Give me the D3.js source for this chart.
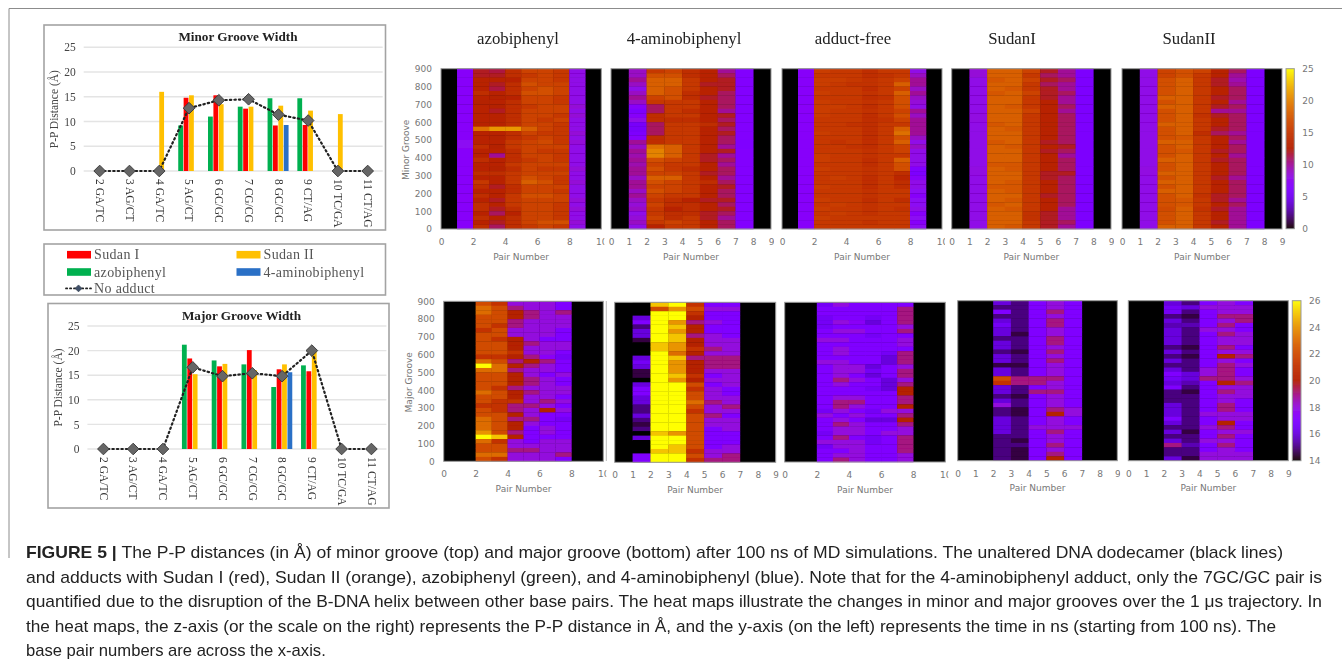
<!DOCTYPE html>
<html><head><meta charset="utf-8">
<script src="https://cdn.jsdelivr.net/npm/d3@7"></script>
<style>html,body{margin:0;background:#fff}svg{display:block}</style></head>
<body><svg id="c" width="1342" height="670"></svg>
<script>
// ---------- grouped bar data ----------
const pairs=["2 GA/TC","3 AG/CT","4 GA/TC","5 AG/CT","6 GC/GC","7 CG/CG","8 GC/GC","9 CT/AG","10 TC/GA","11 CT/AG"];
const minorAzo=[0,0,0,9.2,11,13,14.7,14.7,0,0];
const minorSudan1=[0,0,0,14.8,15.3,12.6,9.2,9.3,0,0];
const minorSudan2=[0,0,16,15.3,13.5,13,13.2,12.2,11.5,0];
const minorAmino=[0,0,0,0,0,0,9.3,0,0,0];
const minorNone=[0,0,0,12.7,14.3,14.5,11.4,10.2,0,0];
const majorAzo=[0,0,0,21.2,18,17.2,12.6,17,0,0];
const majorSudan1=[0,0,0,18.4,16.8,20.1,16.2,15.8,0,0];
const majorSudan2=[0,0,0,15.2,17.3,16,17.2,20,0,0];
const majorAmino=[0,0,0,0,0,0,15.6,0,0,0];
const majorNone=[0,0,0,16.6,14.8,15.4,14.8,20,0,0];
const barTicks=[0,5,10,15,20,25];
// ---------- heat map data: each column listed top (900) to bottom (0) ----------
const hmAzo=[
{p:1,v:[7,7,7,7,7,7,7,7,7.5,7,7,7,7,7,7.2,7,7,7]},
{p:2,v:[12,12,13,13,13,14,13,12.5,13,13,13,13,13,19,13,13,13,14,13,13,14,13,13,14,13,15,14,13,14,13,14,14,13,14,13,14]},
{p:3,v:[11.5,12,13,12,11.5,13,12.5,13,12.5,12,13,13,13,21,13,12.5,13,12.5,13,10,13,13,12.5,14,13,13,12,13,13,12,13,12,11,13,12,11]},
{p:4,v:[14,14,13,14,14,14,13,14,14,14,14,14,14,21,14,14,15,15,14,14,14,15,14,15,15,15,14,14,15,15,15,14,13,14,14,14]},
{p:5,v:[16,15,16,17,16,17,16,16,15,16,16,16,16,18,16,15,16,16,16,16,15,16,16,16,17,18,16,16,17,16,16,16,16,16,16,15]},
{p:6,v:[16,16,16,16,17,17,16,16,16,16,16,15,16,16,15,16,16.5,16,15,16,16,16,15,16,16,17,16,16,17,16,16,16,16,16,17,16]},
{p:7,v:[15,15,15,16,16,16,15,15,16,16,15,16,15,15,15,15,15,16,15,15,15,16,15,16,15,15,16,15,16,16,15,15,15,15,17,15]},
{p:8,v:[8,8,8,8,8,8,8,8,8.5,8,8.5,8,8,8,8.5,8,8.5,8,8,8,8,8,8.5,8,8,8.5,8,8,8,8.5,8,8.5,8,8,8.5,8]}];
const hmAmino=[
{p:1,v:[9,9,10,9,8,9,10,9,7,6,7,8,5.5,5.5,6,7,10,9,10,9.5,10,9.5,10,10,9,10,10,9,10,9,8.5,9,8,8.5,9,8]},
{p:2,v:[15,17,18,18,18,18,16,15,11,11,14,14,11,11,11,14,14,19,20,20,17,16,17,16,18,17,16,17,16,15,16,15,15,16,15,13]},
{p:3,v:[16,17,18,18,17,17,17,15,15,15,15,14,15,15,15,15,15,18,18,18,16,15,15,16,18,16,16,16,15,14,14,13,14,14,16,15]},
{p:4,v:[14,14,15,15,15,14,14,15,15,14,15,14,15,15,15,15,15,15,15,15,15,15,14,15,15,15,15,15,15,13,14,14,14,15,15,15]},
{p:5,v:[13,13,13,12,13,13,12,13,13,13,13,13,14,13,13,13,13,13,13,12,12,13,13,12,13,14,13,13,13,12,13,13,12,12,13,13]},
{p:6,v:[10,11,12,12,12,11,11,11,11,10,12,11,12,11,12,11,11,10,12,10,11,10,11,11,10,11,12,11,11,12,11,12,11,10,11,11]},
{p:7,v:[6.5,6.5,6.5,6.5,6.5,6.5,6.5,6.5,6.2,6.5,6.5,6.5,6.5,6.5,6.5,6.5,6.5,6.5]}];
const hmFree=[
{p:1,v:[7,7,7,7,7.2,7,7,7,7,7,7,7,7,7,7,7,7,7]},
{p:2,v:[15.5,15,15.5,15.5,15,15.5,15,15.5,15.5,15.5,15.5,15,15,15,15.5,15,15,15,15,15.5,15.5,15,15.5,15,15,15,15.5,15,15,15.5,15,15.5,15,15.5,15,15]},
{p:3,v:[15,15,15.5,15,15,15,15,15,15.5,15,15,15,15,15,15,15,14.5,15,15,15,15,15,15,15,15.5,15,15,15,15,15,15.5,15,15.5,15,15,15]},
{p:4,v:[15,15,15,14.5,15,15,15,15,15,15,15,15,14.5,15,15,15,15,14.5,15,15,15,15,15,15,15,15,15,15,15,15,15,15,15,15,15,15]},
{p:5,v:[14,14,14.5,14.5,14,14.5,14,14.5,14,14.5,14,14,14,14,14,14,14,14,14.5,14.5,14,14,14.5,14.5,14,14,14,14.5,14.5,14,14.5,14.5,14.5,15,14.5,15]},
{p:6,v:[15,14.5,15,15,15,15,14.5,15,15,15,15,14.5,15,15,15,15,15,15,15,15,15,15,15,15,15,15,15,15,15,15,15,15,15,15,15,15]},
{p:7,v:[15,15,16,18,16,18,17,17,17,16,17,16,15,18,19,17,18,16,16,15,18,17,17,14,13.5,14,14,15,15,14,15,14.5,15,15,15,15]},
{p:8,v:[8,9,10,10,9,10,9,8.5,8,10,9,10,10,10,10,9,8,9,8,8,8,8,6.5,6,7,8,8,7.5,7,7.5,7.5,8,7,7.5,7,7.5]}];
const hmSudan1=[
{p:1,v:[8.5,8,8,8,8,8.2,8,8,8,8,8,8.2,8,8,8,8,8,8]},
{p:2,v:[18,18,17.5,18,18,17.5,18,18,18,18,18,18,17.5,18,18,18,17.5,18,18,18,18,17.5,18,18,18,18,17.5,18,18,18,17.5,18,18,18,18,18]},
{p:3,v:[18,18,18,18,17.5,18,18,18,17.5,18,18,18,18,17.5,18,18,18,17.5,18,18,18,17.5,17.5,18,18,17.5,17.5,17.5,18,17.5,18,17.5,18,18,18,17.5]},
{p:4,v:[16,15,16,15,15,16,15,15,15,16,15,15,15,15,15,15,15,15,15,15,15,15,15,15,15,15,15,15,15,15,15,15,14.5,14.5,15,15]},
{p:5,v:[12,11,12,11,12,12,12,13,13,13,13,13,13,13,13,13,12,13,12,13,13,13,13,12,12,13,13,13,12,13,13,13,12,12,12,12]},
{p:6,v:[10,10,11,10,10,11,10,10,11,10,11,11,11,11,11,11,11,12,11,10,11,11,11,12,11,11,11,11,11,11,11,10,10,10,11,10]},
{p:7,v:[6,6,6,6,6,6,6,6,6,6,6,6,6,6,6,6,6,6]}];
const hmSudan2=[
{p:1,v:[8,8,8,8,8,8,8,8,8,8,8,8.2,8,8,8,8,8,8]},
{p:2,v:[16,16,17,17,17,17,18,17,18,17,17,17,18,17,17,17,18,17,17,17,18,17,17,18,17,18,17,18,17,17,17,16.5,17,17,17,18]},
{p:3,v:[17,17,18,18,18,18,18,18,18,18,18,18,18,18,18,17.5,18,18,17.5,18,18,18,18,18,18,18,18,18,18,17.5,17.5,18,18,18,18,18]},
{p:4,v:[16,15,15,15,15,15,15,15,15,15,14.5,15,15,15,14,15,15,15,15,15,15,15,15,15,15,15,15,15,14.5,15,15,14.5,15,15,15,15]},
{p:5,v:[13,13,12,12,13,13,12,13,12,10,12,13,13,12,11,13,13,13,12,13,12,13,13,13,12,13,13,13,12,12,13,12,13,13,12,13]},
{p:6,v:[11,10,9.5,10,11,11,11,10,11,10,11,11,11,11,10,11,10,11,11,10,11,11,11,11,10,11,11,11,11,10,11,10,10,10,10,10]},
{p:7,v:[6,6,6,6,6,6,6,6,6,6,6,6,6,6,6,6,6,6]}];
const hmMajAzo=[
{p:2,v:[22,23,23,22,22,22,21,22,22,22,22,22,21,23,26,23,22,22,22,22,23,22,22,21,22,22,23,23,23,24,26,23,22,22,23,22]},
{p:3,v:[21,22,22,22,22,21,22,22,21,22,22,22,21,22,23,23,22,22,22,21,22,22,21,21,21,22,22,22,22,22,25,21,22,22,23,21]},
{p:4,v:[18,19,20,20,19,19,18,18,20,20,20,21,20,19,20,19,20,20,20,19,20,20,21,19,19,20,19,20,20,19,20,18,18,19,18,18]},
{p:5,v:[18,18,19,19,18,18,18,18,18,19,18,18,19,20,19,18,18,19,19,18,19,18,18,19,18,18,19,18,17,17,17,17,18,19,18,18]},
{p:6,v:[18,18,18,18,18,18,18,18,17,18,18,18,17.5,19,18,18,17,18,18,18,18,18,19,18,20,17,17,17,18,18,17,18,18,18,18,18]},
{p:7,v:[17,17,19,18,18,18,17,17,17,18,18,17,16.5,17,17,17,18,17,17,18,18,17,18,17,18,17,16.5,17,17,17,17,18,18,18,19,17]}];
const hmMajAmino=[
{p:1,v:[14,14,14,16,17,15,16,16,14.5,14,14,14,16,16.5,16,14.5,14.5,14,16,17,17,16,16,15,15,16,15,14.5,15,14,16,14,14,14,17,17]},
{p:2,v:[25,22,26,26,26,26,26,26,26,25,25,26,26,26,26,26,26,26,26,26,26,26,26,26,26,26,26,26,26,25,26,26,26,25,26,26]},
{p:3,v:[26,24,26,26,24,25,24,25,25,24,24,23,25,24,24,24,25,24,26,26,26,26,26,26,26,26,26,26,26,24,26,26,25,25,26,26]},
{p:4,v:[21,22,21,20,19,20,20,19,20,20,21,20,19,20,20,20,21,20,22,21,22,22,23,22,21,22,22,22,22,22,22,22,22,21,22,21]},
{p:5,v:[17,18,17,17,18,17,17,18,18,18,19,18,19,19,19,18,17,18,17,18,18,18,19,18,18,19,18,18,17,17,17,17,17,18,18,19]},
{p:6,v:[17,18,17,17,17,17,17,17,18,18,18,18,19,19,19,18,18,18,18,17,17,18,18,19,18,17,18,18,18,17,17,17,18,18,19,19]}];
const hmMajFree=[
{p:2,v:[16.5,17,17,16.5,16.5,16.5,17,17,18,17,17,17,17,18,17,17,17,17,17,17,17,17,17,17,16.5,18,17,17,17,16.5,17,18,16.5,17,17,17]},
{p:3,v:[18,17,17,17,18,17,18,17,18,17,18,18,17,18,18,18,18,19,18,17,17,18,19,19,18,17,18,19,18,18,19,18,18,17,18,19]},
{p:4,v:[17,17,17,17,17.5,17,18,17,17,17,17,17,17,17,18,18,17,18,17,17,17,18,19,18,17,18,17,18,18,18,17,18,18,18,18,18]},
{p:5,v:[17,17,17,16.5,16,17,17,16.5,17,17,17,17,17,17,16,16.5,16,17,17,16.5,17,17,17,17,16.5,17,16,17,17,17,16.5,16.5,17,17,17,17]},
{p:6,v:[17,17,17,17,17,17,17,17,17,17,17,16.5,16,16,17,17,17,16,16,16,17,17,17,17,18,17,16,17,17,18,17,17,17,17,17,17]},
{p:7,v:[17,19,19,19,19,18,19,17,18,18,17,19,19,19,18,19,19,18,19,20,20,19,19,20,18,19,20,19,18,18,19,19,19,19,18,18]}];
const hmMajS1=[
{p:2,v:[16,15,17,15,16,16.5,16,16,15,16,16,15,16,16,14.5,16,16,22,21,16,16,15,16,18,15,15,16,16,16,16,15,15,15,15,15,15]},
{p:3,v:[15,15,15,15,15,15,15,14.5,15,15,15,14.5,15,15,14.5,15,15,19,19,15,15,14.5,15,15,14.5,14.5,15,15,15,15,15,14.5,15,14.5,14.5,14.5]},
{p:4,v:[17,17,17,17,17,17,17,17,17,17,17,17,17,17,17,17,17,19,19,17,19,17,17,17,17,17,17,17,18,17,17,17,17,17,17,17]},
{p:5,v:[18,18,19,18,19,19,18,18,19,19,18,19,18,19,18,18,18,19,18,18,19,18,18,18,19,20,18,18,18,19,18,18,19,18,19,20]},
{p:6,v:[17,17,17,17,17,17,17,17,17,17,17,17,17,17,17,17,17,17,17,17,17,17,17,17,18,18,17,17,18,17,17,17,17,17,17,17]}];
const hmMajS2=[
{p:2,v:[16,16.5,16.5,15,16,15.5,16,16,16,16,15,16,15,16,15,16,17,16.5,16,17,15,15,15,16,16,16,17,16,15,16,15,16,19,15,15,16]},
{p:3,v:[15,16,15,14.5,15,15.5,15,15,15,15,14.5,15,14.5,15,15,15,16,16,15.5,15,14.5,15,15,15,15,15,15,15,15,14.5,15,15,15.5,15,15,14.5]},
{p:4,v:[17,18,17,17,17,17,18,17,17,17,17,17,17,17,17,18,18,19,17,17,17,17,17,17,17,18,17,17,18,17,17,18,17,17,18,18]},
{p:5,v:[18,18,18,19,18,19,18,19,18,18,19,18,20,18,19,19,19,19,20,18,19,18,18,19,19,18,18,20,19,18,19,18,19,18,18,18]},
{p:6,v:[17,18,18,19,19,17,17,18,18,18,17,18,19,17,18,17,17,18,19,18,18,18,17,17,17,18,18,17,17,18,17,17,17,17,18,18]}];
const caption=[
["FIGURE 5 | ","The P-P distances (in Å) of minor groove (top) and major groove (bottom) after 100 ns of MD simulations. The unaltered DNA dodecamer (black lines)"],
["","and adducts with Sudan I (red), Sudan II (orange), azobiphenyl (green), and 4-aminobiphenyl (blue). Note that for the 4-aminobiphenyl adduct, only the 7GC/GC pair is"],
["","quantified due to the disruption of the B-DNA helix between other base pairs. The heat maps illustrate the changes in minor and major grooves over the 1 μs trajectory. In"],
["","the heat maps, the z-axis (or the scale on the right) represents the P-P distance in Å, and the y-axis (on the left) represents the time in ns (starting from 100 ns). The"],
["","base pair numbers are across the x-axis."]];
const capEnds=[1283,1322,1322,1276,null];

const svg=d3.select("#c");
const serif='"Liberation Serif",serif',sans='"DejaVu Sans",sans-serif';
const defs=svg.append("defs");
defs.append("filter").attr("id","soft").attr("x","-2%").attr("y","-2%").attr("width","104%").attr("height","104%")
 .append("feGaussianBlur").attr("stdDeviation","0.5 0.7");
defs.append("filter").attr("id","softer").attr("x","-5%").attr("y","-5%").attr("width","110%").attr("height","110%")
 .append("feGaussianBlur").attr("stdDeviation",0.35);

// outer frame
svg.append("path").attr("d","M9,558V8.5H1342").attr("fill","none").attr("stroke","#8c8c8c").attr("stroke-width",1);

const pal=t=>{t=Math.max(0,Math.min(1,t));const b=Math.max(0,Math.sin(2*Math.PI*t));
 return d3.rgb(255*Math.sqrt(t),255*t*t*t,255*b)+"";};

function barPanel(o){
 const g=svg.append("g").attr("filter","url(#softer)");
 g.append("rect").attr("x",o.box[0]).attr("y",o.box[1]).attr("width",o.box[2]-o.box[0]).attr("height",o.box[3]-o.box[1])
  .attr("fill","#fff").attr("stroke","#a3a3a3").attr("stroke-width",1.6);
 const step=(o.x11-o.x2)/9;
 const x=d3.scaleBand().domain(pairs).range([o.x2-step/2,o.x11+step/2]);
 const y=d3.scaleLinear().domain([0,25]).range([o.y0,o.y25]);
 const inner=21.6,off=(step-inner)/2;
 const sub=d3.scaleBand().domain(["azo","s1","s2","am"]).range([off,off+inner]);
 g.append("g").selectAll("line").data(barTicks).join("line")
  .attr("x1",o.x2-16).attr("x2",o.x11+15).attr("y1",d=>y(d)).attr("y2",d=>y(d)).attr("stroke","#e4e4e4").attr("stroke-width",1.4);
 const ax=g.append("g").attr("transform",`translate(${o.x2-25},0)`).call(d3.axisLeft(y).tickValues(barTicks).tickSize(0));
 ax.select(".domain").remove();
 ax.selectAll("text").attr("font-family",serif).attr("font-size",11.5).attr("fill","#444").attr("x",1);
 const series=[["azo",o.azo,"#00b050"],["s1",o.s1,"#ff0000"],["s2",o.s2,"#ffc000"],["am",o.am,"#2a6fc6"]];
 series.forEach(([k,vals,col])=>{
  g.append("g").selectAll("rect").data(vals.map((v,i)=>({v,i})).filter(d=>d.v>0)).join("rect")
   .attr("x",d=>x(pairs[d.i])+sub(k)).attr("y",d=>y(d.v)).attr("width",sub.bandwidth()-0.6).attr("height",d=>y(0)-y(d.v)).attr("fill",col);
 });
 const cx=i=>x(pairs[i])+step/2;
 g.append("path").datum(o.none).attr("fill","none").attr("stroke","#222").attr("stroke-width",2.2).attr("stroke-dasharray","1.4 3.1").attr("stroke-linecap","round")
  .attr("d",d3.line().x((d,i)=>cx(i)).y(d=>y(d)));
 g.append("g").selectAll("path").data(o.none).join("path")
  .attr("d",d3.symbol(d3.symbolSquare,68)()).attr("transform",(d,i)=>`translate(${cx(i)},${y(d)}) rotate(45)`)
  .attr("fill","#666").attr("stroke","#3a3a3a").attr("stroke-width",0.9);
 const a2=g.append("g").attr("transform",`translate(0,${o.y0})`).call(d3.axisBottom(x).tickSize(0));
 a2.select(".domain").remove();
 a2.selectAll("text").attr("font-family",serif).attr("font-size",11.5).attr("fill","#333")
  .attr("text-anchor","start").attr("dy","0.32em").attr("y",0).attr("x",0)
  .attr("transform","translate(0,8) rotate(90)");
 g.append("text").attr("x",o.titleX).attr("y",o.titleY).attr("text-anchor","middle").attr("font-family",serif).attr("font-weight","bold").attr("font-size",13.2).attr("fill","#222").text(o.title);
 g.append("text").attr("transform",`translate(${o.ylabX},${(o.y0+o.y25)/2}) rotate(-90)`).attr("text-anchor","middle").attr("font-family",serif).attr("font-size",11.5).attr("fill","#444").text("P-P Distance (Å)");
}
barPanel({box:[44,25,385.5,230],x2:99.7,x11:367.7,y0:171,y25:47.3,title:"Minor Groove Width",titleX:238,titleY:41,ylabX:58,
 azo:minorAzo,s1:minorSudan1,s2:minorSudan2,am:minorAmino,none:minorNone});
barPanel({box:[48,303.5,389,508],x2:103.4,x11:371.4,y0:449,y25:326,title:"Major Groove Width",titleX:241.5,titleY:320,ylabX:62,
 azo:majorAzo,s1:majorSudan1,s2:majorSudan2,am:majorAmino,none:majorNone});

// legend
const lg=svg.append("g").attr("filter","url(#softer)");
lg.append("rect").attr("x",44).attr("y",244).attr("width",341.5).attr("height",51).attr("fill","#fff").attr("stroke","#a3a3a3").attr("stroke-width",1.6);
const legendNames=["Sudan I","Sudan II","azobiphenyl","4-aminobiphenyl"];
const legendCols=["#ff0000","#ffc000","#00b050","#2a6fc6"];
legendNames.forEach((n,i)=>{
 const lx=i%2?236.5:67,ly=i<2?254.7:272;
 lg.append("rect").attr("x",lx).attr("y",ly-3.8).attr("width",24).attr("height",7.6).attr("fill",legendCols[i]);
 lg.append("text").attr("x",lx+27).attr("y",ly+4.6).attr("font-family",serif).attr("font-size",14).attr("letter-spacing",0.35).attr("fill","#555").text(n);
});
lg.append("line").attr("x1",66).attr("x2",91).attr("y1",288.4).attr("y2",288.4).attr("stroke","#222").attr("stroke-width",1.8).attr("stroke-dasharray","1.2 2.8").attr("stroke-linecap","round");
lg.append("path").attr("d",d3.symbol(d3.symbolSquare,24)()).attr("transform","translate(78.5,288.4) rotate(45)").attr("fill","#3f5068").attr("stroke","#2a3648").attr("stroke-width",0.6);
lg.append("text").attr("x",94).attr("y",293).attr("font-family",serif).attr("font-size",14).attr("letter-spacing",0.35).attr("fill","#555").text("No adduct");

// ---------- heat maps ----------
function heat(o){
 const [x0,x1,y0,y1]=o.r;
 const x=d3.scaleLinear().domain([0,o.max]).range([x0,x1]);
 const y=d3.scaleLinear().domain([0,900]).range([y1,y0]);
 const c=d3.scaleSequential(pal).domain(o.dom);
 const g=svg.append("g");
 const id="clip"+Math.round(x0);
 defs.append("clipPath").attr("id",id).append("rect").attr("x",x0-12).attr("y",0).attr("width",x1-x0+12+(o.clipR||3)).attr("height",30);
 const cells=g.append("g").attr("filter","url(#soft)");
 cells.append("rect").attr("x",x0).attr("y",y0).attr("width",x1-x0).attr("height",y1-y0).attr("fill",c(o.dom[0]));
 o.cols.forEach(col=>{
  const n=col.v.length;
  cells.append("g").selectAll("rect").data(col.v).join("rect")
   .attr("x",x(col.p)).attr("width",x(col.p+1)-x(col.p)+0.3)
   .attr("y",(d,i)=>y(900-i*900/n)).attr("height",y(0)-y(900/n)+0.3)
   .attr("fill",d=>c(d));
 });
 g.append("rect").attr("x",x0).attr("y",y0).attr("width",x1-x0).attr("height",y1-y0).attr("fill","none").attr("stroke","#9a9a9a").attr("stroke-width",1);
 const xa=g.append("g").attr("transform",`translate(0,${y1})`).attr("clip-path",`url(#${id})`).call(d3.axisBottom(x).tickValues(o.max===10?[0,2,4,6,8,10]:d3.range(0,10)).tickSize(0).tickFormat(d3.format("d")));
 xa.select(".domain").remove();
 xa.selectAll("text").attr("font-family",sans).attr("font-size",9).attr("fill","#777").attr("y",9.7);
 g.append("text").attr("x",(x0+x1)/2).attr("y",y1+30.5).attr("text-anchor","middle").attr("font-family",sans).attr("font-size",9).attr("fill","#777").text("Pair Number");
 if(o.ylab){
  const ya=g.append("g").attr("transform",`translate(${x0},0)`).call(d3.axisLeft(y).tickValues(d3.range(0,901,100)).tickSize(0).tickFormat(d3.format("d")));
  ya.select(".domain").remove();
  ya.selectAll("text").attr("font-family",sans).attr("font-size",9).attr("fill","#777").attr("x",-9);
  g.append("text").attr("transform",`translate(${x0-32},${(y0+y1)/2+1}) rotate(-90)`).attr("text-anchor","middle").attr("font-family",sans).attr("font-size",9).attr("fill","#777").text(o.ylab);
 }
}
heat({r:[441,601.3,68.7,229],max:10,dom:[0,25],cols:hmAzo,ylab:"Minor Groove"});
heat({r:[611,771,68.7,229],max:9,dom:[0,25],cols:hmAmino});
heat({r:[782,942,68.7,229],max:10,dom:[0,25],cols:hmFree});
heat({r:[951.7,1111,68.7,229],max:9,dom:[0,25],cols:hmSudan1});
heat({r:[1122,1282,68.7,229],max:9,dom:[0,25],cols:hmSudan2,clipR:6});
heat({r:[443.7,603.3,301.3,461.3],max:10,dom:[14,26],cols:hmMajAzo,ylab:"Major Groove"});
heat({r:[614.7,775.7,302.3,462.3],max:9,dom:[14,26],cols:hmMajAmino});
heat({r:[784.7,945.3,302.3,462],max:10,dom:[14,26],cols:hmMajFree});
heat({r:[957.7,1117.3,300.7,460.7],max:9,dom:[14,26],cols:hmMajS1});
heat({r:[1128.3,1288.3,300.7,460.7],max:9,dom:[14,26],cols:hmMajS2,clipR:6});
svg.append("line").attr("x1",606.3).attr("x2",606.3).attr("y1",301).attr("y2",461).attr("stroke","#bbb");

// colour bars
function cbar(x0,x1,y0,y1,dom,ticks){
 const y=d3.scaleLinear().domain(dom).range([y1,y0]);
 const c=d3.scaleSequential(pal).domain(dom);
 const g=svg.append("g");
 g.append("g").attr("filter","url(#soft)").selectAll("rect").data(d3.range(dom[0],dom[1],(dom[1]-dom[0])/160)).join("rect")
  .attr("x",x0).attr("width",x1-x0).attr("y",d=>y(d)-1.2).attr("height",1.4).attr("fill",d=>c(d));
 g.append("rect").attr("x",x0).attr("y",y0).attr("width",x1-x0).attr("height",y1-y0).attr("fill","none").attr("stroke","#9a9a9a");
 const a=g.append("g").attr("transform",`translate(${x1},0)`).call(d3.axisRight(y).tickValues(ticks).tickSize(0));
 a.select(".domain").remove();
 a.selectAll("text").attr("font-family",sans).attr("font-size",9).attr("fill","#777").attr("x",8);
}
cbar(1286,1294.3,68.7,228.7,[0,25],[0,5,10,15,20,25]);
cbar(1292.3,1301,300.7,460.7,[14,26],[14,16,18,20,22,24,26]);

// column titles
const titles=["azobiphenyl","4-aminobiphenyl","adduct-free","SudanI","SudanII"];
const titleX=[518,684,853,1012,1189];
svg.append("g").selectAll("text").data(titles).join("text").attr("x",(d,i)=>titleX[i]).attr("y",44)
 .attr("text-anchor","middle").attr("font-family",serif).attr("font-size",16.8).attr("fill","#222").text(d=>d);

// caption
const cap=svg.append("g").attr("font-family",'"Liberation Sans",sans-serif').attr("font-size",16.6).attr("fill","#222");
caption.forEach((l,i)=>{
 const t=cap.append("text").attr("x",26).attr("y",558+i*24.6);
 if(capEnds[i]) t.attr("textLength",capEnds[i]-26).attr("lengthAdjust","spacingAndGlyphs");
 if(l[0]) t.append("tspan").attr("font-weight","bold").text(l[0]);
 t.append("tspan").text(l[1]);
});
</script></body></html>
